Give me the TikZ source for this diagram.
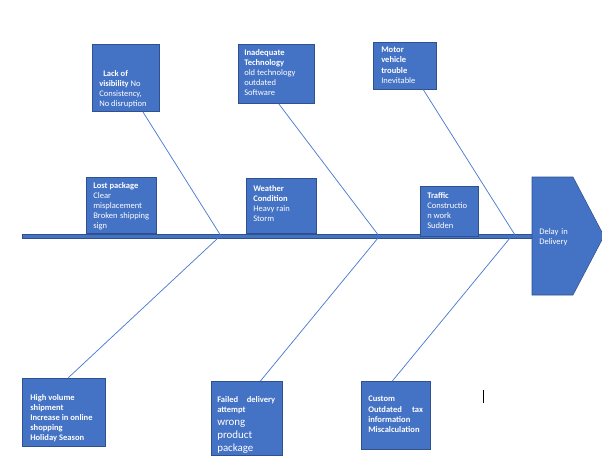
\documentclass[tikz,border=0pt]{standalone}
\usepackage{fontspec}
\setmainfont{Carlito}
\usetikzlibrary{calc}
\definecolor{boxblue}{HTML}{4472C4}
\definecolor{edgeblue}{HTML}{2F528F}
\definecolor{linkblue}{HTML}{4A7BD0}
\begin{document}
\begin{tikzpicture}[x=0.75pt,y=-0.75pt,
  causebox/.style={draw=edgeblue, fill=boxblue, line width=0.5pt, inner sep=0pt, anchor=north west},
  causetext/.style={text=white, inner sep=0pt, anchor=north west, align=left, font=\fontsize{6.4}{7.6}\selectfont},
  link/.style={draw=linkblue, line width=0.55pt}]
\clip (0,0) rectangle (602,456);
\fill[white] (0,0) rectangle (602,456);

% spine and head
\node[draw=edgeblue, fill=boxblue, line width=0.4pt, inner sep=0pt, minimum width=382.5pt, minimum height=3pt, anchor=west] (spine) at (22,236) {};
\fill[boxblue, draw=edgeblue, line width=0.4pt] (532,177) -- (573,177) -- (604,236) -- (573,295) -- (532,295) -- cycle;
\node[causetext, text width=45pt] (effect) at (539,228) {Delay in\\Delivery};

% spine points
\coordinate (s1) at (221,236);
\coordinate (s2) at (379,236);
\coordinate (s3) at (515,235);
\coordinate (s4) at (218,238);
\coordinate (s5) at (378,238);
\coordinate (s6) at (510,238);

% top boxes
\node[causebox, minimum width=50.25pt, minimum height=50.25pt] (b1) at (92,44) {};
\node[causebox, minimum width=57pt, minimum height=44.25pt] (b2) at (238,44) {};
\node[causebox, minimum width=47.25pt, minimum height=35.25pt] (b3) at (373,42) {};
% boxes on spine
\node[causebox, minimum width=52.5pt, minimum height=42pt] (b4) at (86,177) {};
\node[causebox, minimum width=52.5pt, minimum height=41.25pt] (b5) at (246,178) {};
\node[causebox, minimum width=43.5pt, minimum height=37.5pt] (b6) at (420,186) {};
% bottom boxes
\node[causebox, minimum width=62.25pt, minimum height=51pt] (b7) at (22,378) {};
\node[causebox, minimum width=53.25pt, minimum height=55.5pt] (b8) at (211,381) {};
\node[causebox, minimum width=51.75pt, minimum height=51pt] (b9) at (361,381) {};

% connectors
\draw[link] ($(b1.south west)!0.75!(b1.south east)$) -- (s1);
\draw[link] ($(b2.south west)!0.53!(b2.south east)$) -- (s2);
\draw[link] ($(b3.south west)!0.79!(b3.south east)$) -- (s3);
\draw[link] ($(b7.north west)!0.55!(b7.north east)$) -- (s4);
\draw[link] ($(b8.north west)!0.69!(b8.north east)$) -- (s5);
\draw[link] ($(b9.north west)!0.45!(b9.north east)$) -- (s6);

% texts
\node[causetext] (t1) at (99,70) {\bfseries\hspace*{3pt}Lack of\\\textbf{visibility} No\\Consistency,\\No disruption};
\node[causetext] (t2) at (244,49) {\bfseries Inadequate\\\bfseries Technology\\old technology\\outdated\\Software};
\node[causetext] (t3) at (381,47) {\bfseries Motor\\\bfseries vehicle\\\bfseries trouble\\Inevitable};
\node[causetext] (t4) at (93,182) {\bfseries Lost package\\Clear\\misplacement\\\hbox to 42pt{Broken\hfill shipping}\\sign};
\node[causetext] (t5) at (253,185) {\bfseries Weather\\\bfseries Condition\\Heavy rain\\Storm};
\node[causetext] (t6) at (427,192) {\bfseries Traffic\\Constructio\\n work\\Sudden};
\node[causetext] (t7) at (30,394) {\bfseries High volume\\\bfseries shipment\\\bfseries Increase in online\\\bfseries shopping\\\bfseries Holiday Season};
\node[causetext] (t8) at (217,396) {\bfseries\hbox to 43.5pt{Failed\hfill delivery}\\\bfseries attempt\\[2.6pt]{\fontsize{8.2}{9.4}\selectfont wrong}\\[1.8pt]{\fontsize{8.2}{9.4}\selectfont product}\\[2pt]{\fontsize{8.2}{9.4}\selectfont package}};
\node[causetext] (t9) at (368,396) {\bfseries Custom\\\bfseries\hbox to 41pt{Outdated\hfill tax}\\\bfseries information\\\bfseries Miscalculation};

% stray text cursor
\draw[black, line width=0.7pt] (483,390) -- (483,403);
\end{tikzpicture}
\end{document}
